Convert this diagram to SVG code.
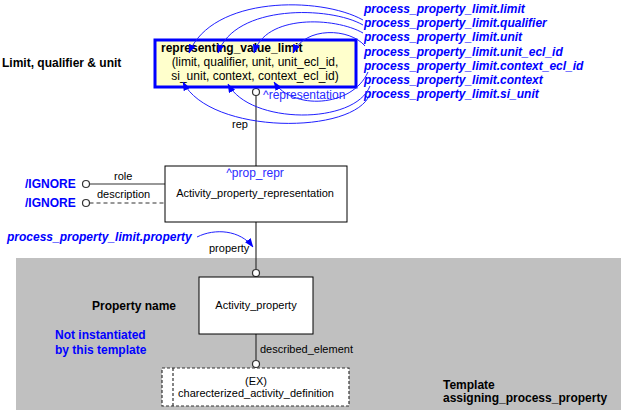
<svg xmlns="http://www.w3.org/2000/svg" width="621" height="414" viewBox="0 0 621 414">
<style>
text{font-family:"Liberation Sans",Arial,sans-serif;}
.t11{font-size:11px;fill:#000;}
.t12{font-size:12px;fill:#000;}
.b12{font-size:12px;font-weight:bold;fill:#000;}
.lbl{font-size:12px;font-weight:bold;font-style:italic;fill:#0000ff;}
.blue{font-size:12px;font-weight:bold;fill:#0000ff;}
.ref{font-size:12px;fill:#2b2bff;}
.box{fill:#fff;stroke:#000;stroke-width:1;}
.line{stroke:#333;stroke-width:1.2;fill:none;}
.dash{stroke:#333;stroke-width:1.2;fill:none;stroke-dasharray:4,3;}
.circ{fill:#fff;stroke:#333;stroke-width:1.2;}
.arc{stroke:#2020ff;stroke-width:1;fill:none;marker-end:url(#ah);}
</style>
<defs>
<marker id="ah" markerWidth="9" markerHeight="7" refX="8.5" refY="3.5" orient="auto" markerUnits="userSpaceOnUse">
<path d="M0,0 L9,3.5 L0,7 z" fill="#0000ff"/>
</marker>
</defs>
<rect x="16" y="258" width="605" height="152" fill="#c0c0c0"/>
<g id="labels">
<text class="b12" x="2" y="67">Limit, qualifier &amp; unit</text>
<text class="b12" x="92" y="310">Property name</text>
<text class="blue" x="55" y="339">Not instantiated</text>
<text class="blue" x="55" y="354">by this template</text>
<text class="b12" x="443" y="389">Template</text>
<text class="b12" x="443" y="402">assigning_process_property</text>
<text class="lbl" x="364" y="13">process_property_limit.limit</text>
<text class="lbl" x="364" y="27">process_property_limit.qualifier</text>
<text class="lbl" x="364" y="41">process_property_limit.unit</text>
<text class="lbl" x="364" y="56">process_property_limit.unit_ecl_id</text>
<text class="lbl" x="364" y="70">process_property_limit.context_ecl_id</text>
<text class="lbl" x="364" y="84">process_property_limit.context</text>
<text class="lbl" x="364" y="98">process_property_limit.si_unit</text>
<text class="lbl" x="7" y="241">process_property_limit.property</text>
<text class="blue" x="25" y="188">/IGNORE</text>
<text class="blue" x="25" y="207">/IGNORE</text>
</g>
<g id="connectors">
<line class="line" x1="256" y1="95.5" x2="256" y2="166"/>
<line class="line" x1="256" y1="222" x2="256" y2="269.5"/>
<line class="line" x1="256" y1="334" x2="256" y2="360.5"/>
<circle class="circ" cx="256" cy="92" r="3.5"/>
<circle class="circ" cx="256" cy="273" r="3.5"/>
<circle class="circ" cx="256" cy="364" r="3.5"/>
<line class="line" x1="89.5" y1="184" x2="165" y2="184"/>
<circle class="circ" cx="86" cy="184" r="3.5"/>
<line class="dash" x1="89.5" y1="203" x2="165" y2="203"/>
<circle class="circ" cx="86" cy="203" r="3.5"/>
<text class="ref" x="263" y="99">^representation</text>
<text class="t11" x="232" y="128">rep</text>
<text class="t11" x="114" y="180">role</text>
<text class="t11" x="97" y="198">description</text>
<text class="t11" x="209" y="252">property</text>
<text class="t11" x="260" y="353">described_element</text>
</g>
<g id="representing_value_limit">
<rect x="155" y="40" width="201" height="47" fill="#ffffcc" stroke="#0000ff" stroke-width="3"/>
<text class="b12" x="161" y="52">representing_value_limit</text>
<text class="t12" x="255" y="66" text-anchor="middle">(limit, qualifier, unit, unit_ecl_id,</text>
<text class="t12" x="255" y="80" text-anchor="middle">si_unit, context, context_ecl_id)</text>
</g>
<g id="Activity_property_representation">
<rect class="box" x="165" y="166" width="182" height="56"/>
<text class="ref" x="255" y="177" text-anchor="middle">^prop_repr</text>
<text class="t11" x="255" y="197" text-anchor="middle">Activity_property_representation</text>
</g>
<g id="Activity_property">
<rect class="box" x="199" y="277" width="114" height="57"/>
<text class="t11" x="256" y="309" text-anchor="middle">Activity_property</text>
</g>
<g id="charecterized_activity_definition">
<rect x="162" y="368" width="187" height="38" fill="#fff" stroke="#333" stroke-width="1.2" stroke-dasharray="3,2"/>
<line x1="173" y1="368" x2="173" y2="406" stroke="#333" stroke-width="1.2" stroke-dasharray="3,2"/>
<text class="t11" x="256" y="385" text-anchor="middle">(EX)</text>
<text class="t11" x="256" y="397" text-anchor="middle">charecterized_activity_definition</text>
</g>
<g id="mapping-arcs">
<path class="arc" d="M363,20 C320,-4 212,-4 189,53"/>
<path class="arc" d="M363,25 C330,6 235,4 218,53"/>
<path class="arc" d="M363,33 C335,17 265,14 254,53"/>
<path class="arc" d="M365,46 C350,28 305,26 293,53"/>
<path class="arc" d="M368,72 C352,108 292,110 274,82"/>
<path class="arc" d="M370,86 C355,125 250,125 228,84"/>
<path class="arc" d="M370,94 C355,135 210,135 183,82"/>
<path class="arc" d="M197,237 C215,228 240,230 253,247"/>
</g>
</svg>
